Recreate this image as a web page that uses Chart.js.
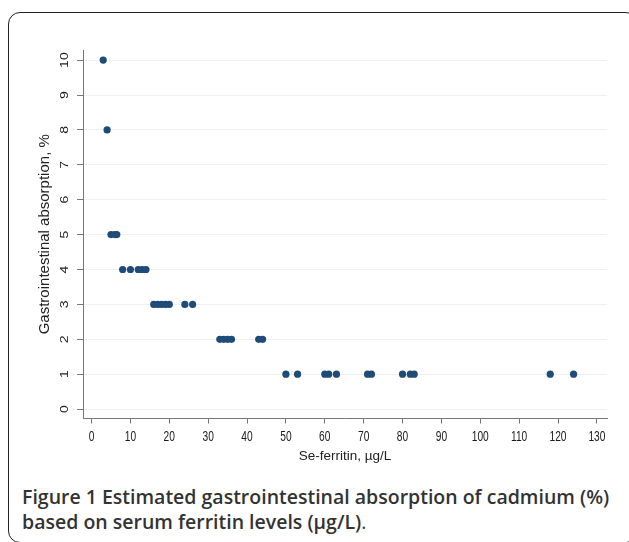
<!DOCTYPE html>
<html>
<head>
<meta charset="utf-8">
<script src="https://cdn.jsdelivr.net/npm/chart.js@4"></script>
<style>
  body { margin: 0; background: #fff; }
  .frame {
    position: absolute; left: 8px; top: 12px; width: 630px; height: 531px;
    border: 1.5px solid #222; border-radius: 12px; box-sizing: border-box;
  }
  .plot { position: absolute; left: 0; top: 0; width: 629px; height: 470px; }
  .caption {
    position: absolute; left: 22px; top: 484px; width: 610px;
    font-family: "Open Sans", sans-serif; font-weight: 600; font-size: 19.5px;
    line-height: 25px; color: #333; white-space: nowrap;
  }
  .caption span { font-weight: normal; }
</style>
</head>
<body>
<div class="frame"></div>
<div class="plot"><canvas id="scatterPlot"></canvas></div>
<div class="caption">Figure 1 Estimated gastrointestinal absorption of cadmium (%)<br>based on serum ferritin levels (µg/L)<span>.</span></div>
<script>
// values
const ferritin = [3, 4, 5, 6, 6.5, 8, 10, 12, 13, 14,
  16, 17, 18, 19, 20, 24, 26, 33, 34, 35, 36, 43, 44,
  50, 53, 60, 61, 63, 71, 72, 80, 82, 83, 118, 124];
const absorption = [10, 8, 5, 5, 5, 4, 4, 4, 4, 4,
  3, 3, 3, 3, 3, 3, 3, 2, 2, 2, 2, 2, 2,
  1, 1, 1, 1, 1, 1, 1, 1, 1, 1, 1, 1];
const xTicks = [0, 10, 20, 30, 40, 50, 60, 70, 80, 90, 100, 110, 120, 130];
const yTicks = [0, 1, 2, 3, 4, 5, 6, 7, 8, 9, 10];

const points = ferritin.map((x, i) => ({ x: x, y: absorption[i] }));

// tick labels are drawn by hand: y labels are rotated and both look squeezed
const tickLabels = {
  id: 'tickLabels',
  afterDraw(chart) {
    const ctx = chart.ctx;
    const xs = chart.scales.x, ys = chart.scales.y;
    ctx.save();
    ctx.fillStyle = '#1a1a1a';
    ctx.textAlign = 'center';
    ctx.textBaseline = 'middle';
    ctx.font = '15px "Liberation Sans", Arial, sans-serif';
    xTicks.forEach(v => {
      ctx.save();
      ctx.translate(xs.getPixelForValue(v), xs.top + 18);
      ctx.scale(0.68, 1);
      ctx.fillText(String(v), 0, 0);
      ctx.restore();
    });
    ctx.font = '14px "Liberation Sans", Arial, sans-serif';
    yTicks.forEach(v => {
      ctx.save();
      ctx.translate(ys.right - 18, ys.getPixelForValue(v));
      ctx.rotate(-Math.PI / 2);
      ctx.scale(1, 0.78);
      ctx.fillText(String(v), 0, 0);
      ctx.restore();
    });
    ctx.restore();
  }
};

new Chart(document.getElementById('scatterPlot'), {
  type: 'scatter',
  data: {
    datasets: [{
      label: 'Absorption',
      data: points,
      backgroundColor: '#1f4b78',
      borderWidth: 0,
      pointRadius: 3.6,
      pointHoverRadius: 3.6
    }]
  },
  options: {
    responsive: true,
    maintainAspectRatio: false,
    animation: false,
    events: [],
    layout: { padding: { left: 0, top: 50, right: 22, bottom: 0 } },
    scales: {
      x: {
        type: 'linear',
        min: -2.2,
        max: 132.6,
        afterBuildTicks: scale => { scale.ticks = xTicks.map(v => ({ value: v })); },
        afterFit: scale => { scale.height = 51.5; },
        ticks: { display: false },
        grid: { drawOnChartArea: false, drawTicks: true, tickLength: 5, tickColor: '#777' },
        border: { color: '#777', width: 1 },
        title: {
          display: true,
          text: 'Se-ferritin, µg/L',
          color: '#222',
          font: { family: '"Liberation Sans", Arial, sans-serif', size: 13.5 },
          padding: { top: 0, bottom: 6 }
        }
      },
      y: {
        min: -0.27,
        max: 10.29,
        afterBuildTicks: scale => { scale.ticks = yTicks.map(v => ({ value: v })); },
        afterFit: scale => { scale.width = 83; },
        ticks: { display: false },
        grid: { color: '#eef1f4', lineWidth: 1, drawTicks: true, tickLength: 6, tickColor: '#777' },
        border: { color: '#777', width: 1 },
        title: {
          display: true,
          text: 'Gastrointestinal absorption, %',
          color: '#222',
          font: { family: '"Liberation Sans", Arial, sans-serif', size: 15 },
          padding: { top: 36, bottom: 0 }
        }
      }
    },
    plugins: {
      legend: { display: false },
      tooltip: { enabled: false }
    }
  },
  plugins: [tickLabels]
});
</script>
</body>
</html>
